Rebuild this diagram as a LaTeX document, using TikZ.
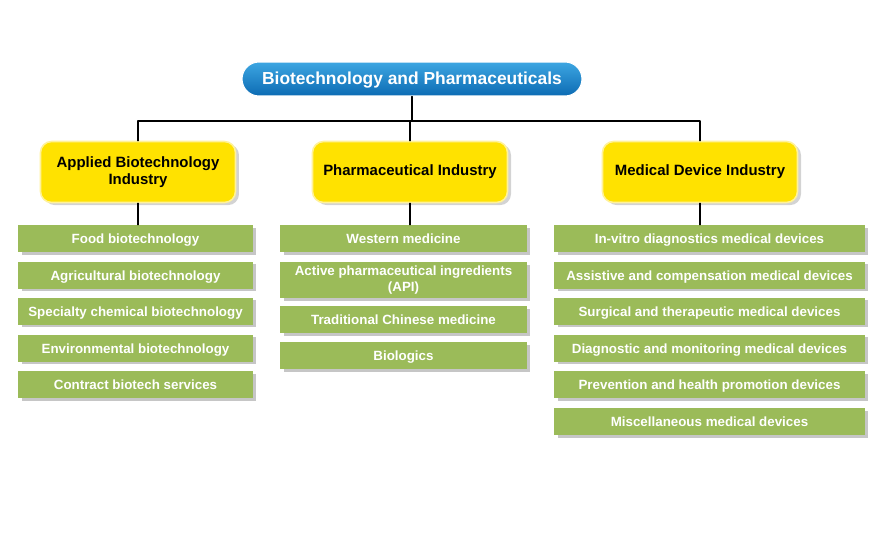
\documentclass[tikz,border=0pt]{standalone}
\usepackage{fontspec}
\setmainfont{Liberation Sans}
\usetikzlibrary{shadows}
\definecolor{rootblue}{HTML}{0C6BB3}
\definecolor{rootlight}{HTML}{3DA6E2}
\definecolor{indyellow}{HTML}{FFE200}
\definecolor{indedge}{HTML}{FFF29A}
\definecolor{subgreen}{HTML}{9BBB59}
\begin{document}
\begin{tikzpicture}[x=0.02cm, y=-0.02cm, line join=round, line cap=round,
	root/.style={minimum width=6.8cm, minimum height=0.68cm, rounded corners=0.34cm,
		top color=rootlight, bottom color=rootblue, draw=white, line width=0.6pt,
		text height=1.6ex, text depth=0.45ex,
		text=white, font=\fontsize{9.9}{11}\selectfont\bfseries},
	industry/.style={minimum width=3.9cm, minimum height=1.22cm, rounded corners=0.22cm,
		fill=indyellow, draw=indedge, line width=0.9pt, align=center,
		drop shadow={opacity=0.35, shadow xshift=2pt, shadow yshift=-1.5pt},
		font=\fontsize{8.5}{9.6}\selectfont\bfseries},
	sub/.style={minimum height=0.54cm, fill=subgreen, inner sep=1pt, align=center,
		text height=1.6ex, text depth=0.45ex,
		text=white, font=\fontsize{7.6}{8.6}\selectfont\bfseries,
		drop shadow={opacity=0.45, shadow xshift=2pt, shadow yshift=-1.5pt}},
	link/.style={line width=0.8pt}]
	\useasboundingbox (0,0) rectangle (885,541);
	% top
	\node[root] (bp) at (412,79) {Biotechnology and Pharmaceuticals};
	\coordinate (bus) at (412,121);
	% industries
	\node[industry] (abi) at (138,172) {Applied Biotechnology\\Industry};
	\node[industry] (phi) at (410,172) {Pharmaceutical Industry};
	\node[industry] (mdi) at (700,172) {Medical Device Industry};
	% applied biotechnology
	\node[sub, minimum width=4.7cm] (a1) at (135.5,238.5) {Food biotechnology};
	\node[sub, minimum width=4.7cm] (a2) at (135.5,275) {Agricultural biotechnology};
	\node[sub, minimum width=4.7cm] (a3) at (135.5,311) {Specialty chemical biotechnology};
	\node[sub, minimum width=4.7cm] (a4) at (135.5,348) {Environmental biotechnology};
	\node[sub, minimum width=4.7cm] (a5) at (135.5,384.5) {Contract biotech services};
	% pharmaceutical
	\node[sub, minimum width=4.94cm] (p1) at (403.5,238.5) {Western medicine};
	\node[sub, minimum width=4.94cm, minimum height=0.72cm, text height={}, text depth={}] (p2) at (403.5,280) {Active pharmaceutical ingredients\\(API)};
	\node[sub, minimum width=4.94cm] (p3) at (403.5,319.5) {Traditional Chinese medicine};
	\node[sub, minimum width=4.94cm] (p4) at (403.5,355.5) {Biologics};
	% medical device
	\node[sub, minimum width=6.22cm] (m1) at (709.5,238.5) {In-vitro diagnostics medical devices};
	\node[sub, minimum width=6.22cm] (m2) at (709.5,275) {Assistive and compensation medical devices};
	\node[sub, minimum width=6.22cm] (m3) at (709.5,311) {Surgical and therapeutic medical devices};
	\node[sub, minimum width=6.22cm] (m4) at (709.5,348) {Diagnostic and monitoring medical devices};
	\node[sub, minimum width=6.22cm] (m5) at (709.5,384.5) {Prevention and health promotion devices};
	\node[sub, minimum width=6.22cm] (m6) at (709.5,421.5) {Miscellaneous medical devices};
	% connectors
	\draw[link] (bp.south) -- (bus);
	\draw[link] (abi.north) |- (bus) -| (mdi.north);
	\draw[link] (phi.north |- bus) -- (phi.north);
	\draw[link] (abi.south) -- (abi.south |- a1.north);
	\draw[link] (phi.south) -- (phi.south |- p1.north);
	\draw[link] (mdi.south) -- (mdi.south |- m1.north);
\end{tikzpicture}
\end{document}
